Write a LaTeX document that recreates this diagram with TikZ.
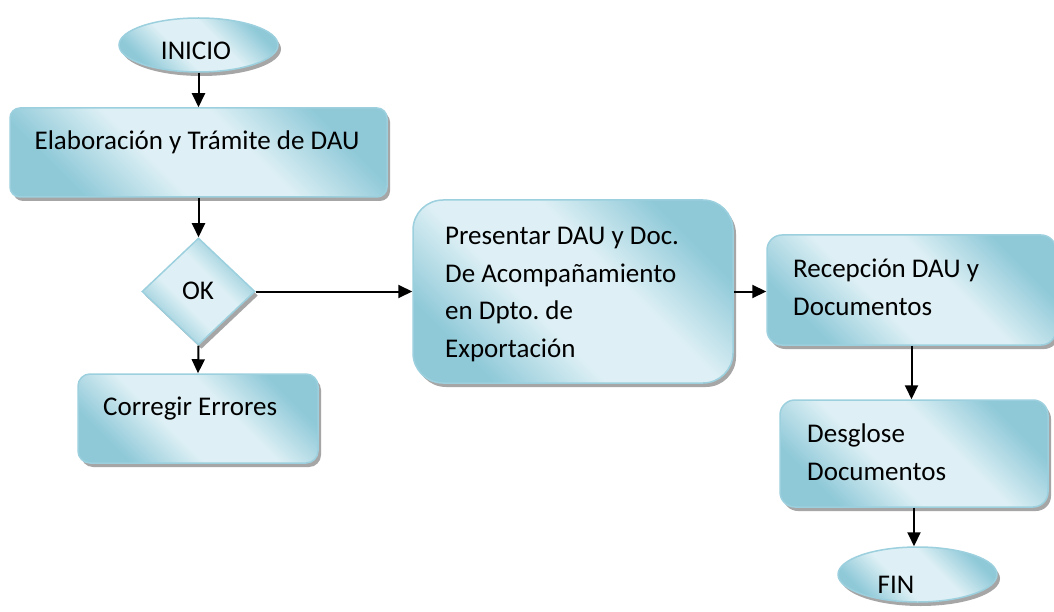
\documentclass[tikz,border=0pt]{standalone}
\usepackage{fontspec}
\setmainfont{Carlito}
\usetikzlibrary{shapes.geometric,arrows.meta,shadows}
\definecolor{bdark}{HTML}{8FC9D8}
\definecolor{blight}{HTML}{DEF0F5}
\definecolor{bedge}{HTML}{9CD0DE}
\pgfdeclareverticalshading{diagblue}{100bp}{color(0bp)=(bdark); color(26bp)=(bdark); color(42bp)=(blight); color(58bp)=(blight); color(74bp)=(bdark); color(100bp)=(bdark)}
\tikzset{
  shapebase/.style={draw=bedge, line width=1.5pt, shading=diagblue, shading angle=-45, inner sep=0pt,
    drop shadow={shadow xshift=3pt, shadow yshift=-4pt, fill=black!35, opacity=1}},
  procbox/.style={shapebase, rectangle},
  termin/.style={shapebase, ellipse},
  decis/.style={shapebase, diamond},
  lbl/.style={font=\fontsize{27}{37.5}\selectfont\frenchspacing, inner sep=0pt, align=left},
  flow/.style={line width=2pt, -{Triangle[length=14pt,width=13pt]}}
}
\begin{document}
\begin{tikzpicture}[x=1pt,y=-1pt]
\useasboundingbox (0,0) rectangle (1054,612);
\fill[white] (0,0) rectangle (1054,612);

\node[termin, minimum width=159pt, minimum height=54pt] (inicio) at (198.5,45) {};
\node[procbox, rounded corners=10pt, minimum width=377pt, minimum height=89pt] (elab) at (198.5,152.5) {};
\node[decis, minimum width=113pt, minimum height=107pt] (ok) at (198.5,291.5) {};
\node[procbox, rounded corners=12pt, minimum width=240pt, minimum height=89pt] (corr) at (198,418.5) {};
\node[procbox, rounded corners=30pt, minimum width=320pt, minimum height=183pt] (pres) at (573,291.5) {};
\node[procbox, rounded corners=15pt, minimum width=289pt, minimum height=110pt] (recep) at (911.5,290) {};
\node[procbox, rounded corners=15pt, minimum width=268pt, minimum height=107pt] (desg) at (914,453.5) {};
\node[termin, minimum width=159pt, minimum height=55pt] (fin) at (917.5,574.5) {};

\node[lbl, anchor=base] (tinicio) at (196,60) {INICIO};
\node[lbl, anchor=base] (telab) at (197,150) {Elaboración y Trámite de DAU};
\node[lbl, anchor=base] (tok) at (198,299) {OK};
\node[lbl, anchor=base west] (tcorr) at (103,415) {Corregir Errores};
\node[lbl, anchor=base west] (tpres) at (445,357) {Presentar DAU y Doc.\\De Acompañamiento\\en Dpto. de\\Exportación};
\node[lbl, anchor=base west] (trecep) at (793,315) {Recepción DAU y\\Documentos};
\node[lbl, anchor=base west] (tdesg) at (807,480) {Desglose\\Documentos};
\node[lbl, anchor=base] (tfin) at (896,593) {FIN};

\draw[flow] (inicio.south) -- (elab.north);
\draw[flow] (elab.south) -- (ok.north);
\draw[flow] (ok.south) -- (corr.north);
\draw[flow] (ok.east) -- (pres.west);
\draw[flow] (pres.east) -- (pres.east -| recep.west);
\draw[flow] (recep.south) -- (recep.south |- desg.north);
\draw[flow] (desg.south) -- (desg.south |- fin.north);
\end{tikzpicture}
\end{document}
